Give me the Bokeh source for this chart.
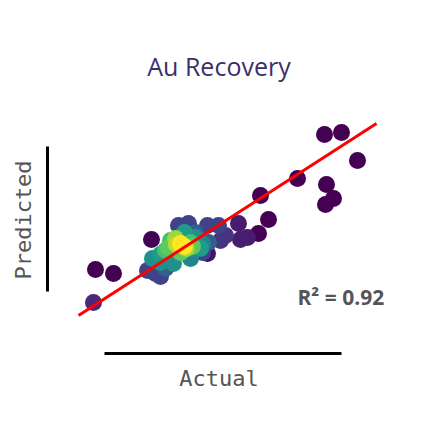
from bokeh.plotting import figure
from bokeh.models import Range1d, FixedTicker, Label, ColumnDataSource
from bokeh.transform import linear_cmap
from bokeh.palettes import Viridis256
from bokeh.embed import file_html
from bokeh.resources import INLINE

# Data (x: actual, y: predicted, d: relative point density)
actual = [324, 341, 357, 297, 326, 333, 325, 260, 268, 258, 95, 113, 151,
          247, 240, 238, 93, 207,
          178, 188, 207, 218, 225, 220, 147, 155, 160, 202,
          195, 208, 165,
          152, 160, 173, 190, 202, 195, 160, 200, 184,
          170, 190, 165, 168, 192, 180,
          175, 186, 176,
          180, 184]
predicted = [288, 290, 262, 244, 238, 224, 218, 227, 203, 189, 153, 149, 183,
             185, 183, 199, 120, 169,
             197, 199, 197, 197, 187, 182, 152, 149, 146, 170,
             190, 180, 154,
             164, 160, 159, 164, 179, 185, 168, 174, 190,
             182, 180, 172, 175, 176, 170,
             184, 174, 178,
             179, 176]
density = [0.0, 0.0, 0.0, 0.0, 0.0, 0.0, 0.0, 0.0, 0.0, 0.0, 0.0, 0.0, 0.0,
           0.08, 0.08, 0.08, 0.12, 0.05,
           0.2, 0.2, 0.2, 0.2, 0.15, 0.15, 0.2, 0.2, 0.2, 0.2,
           0.3, 0.3, 0.3,
           0.5, 0.5, 0.5, 0.45, 0.45, 0.5, 0.55, 0.55, 0.55,
           0.7, 0.7, 0.7, 0.75, 0.75, 0.75,
           0.85, 0.85, 0.9,
           1.0, 1.0]
fit_x = [78, 376]
fit_y = [107, 299]
r2_text = "R\u00b2 = 0.92"

order = sorted(range(len(density)), key=lambda i: density[i])
src = ColumnDataSource(dict(
    x=[actual[i] for i in order],
    y=[predicted[i] for i in order],
    d=[density[i] for i in order],
))

p = figure(width=411, height=406, output_backend="svg", toolbar_location=None,
           x_range=Range1d(47, 390), y_range=Range1d(69, 336),
           min_border_left=47, min_border_right=21, min_border_top=86, min_border_bottom=53,
           title="Au Recovery")
p.outline_line_color = None
p.grid.visible = False
p.background_fill_color = "white"
p.border_fill_color = "white"

p.title.text_font = "Open Sans"
p.title.text_font_size = "25px"
p.title.text_font_style = "normal"
p.title.text_color = "#3b2f6b"
p.title.align = "center"
p.title.standoff = 8

for ax in (p.xaxis[0], p.yaxis[0]):
    ax.ticker = FixedTicker(ticks=[])
    ax.major_label_text_font_size = "0px"
    ax.major_tick_line_color = None
    ax.minor_tick_line_color = None
    ax.axis_line_width = 3
    ax.axis_line_color = "black"
    ax.axis_label_text_font = "DejaVu Sans Mono"
    ax.axis_label_text_font_size = "22px"
    ax.axis_label_text_font_style = "normal"
    ax.axis_label_text_color = "#555555"
    ax.axis_label_standoff = 12

p.xaxis[0].axis_label = "Actual"
p.yaxis[0].axis_label = "Predicted"
p.xaxis[0].bounds = (104, 341)
p.yaxis[0].bounds = (131, 276)

p.scatter("x", "y", source=src, size=17, line_color=None,
          fill_color=linear_cmap("d", Viridis256, 0, 1))
p.line(fit_x, fit_y, line_color="red", line_width=3)

p.add_layout(Label(x=297, y=126, text=r2_text, text_font="Open Sans",
                   text_font_size="21px", text_font_style="bold",
                   text_color="#555555", text_baseline="alphabetic"))

open("out.html", "w").write(file_html(p, INLINE))
